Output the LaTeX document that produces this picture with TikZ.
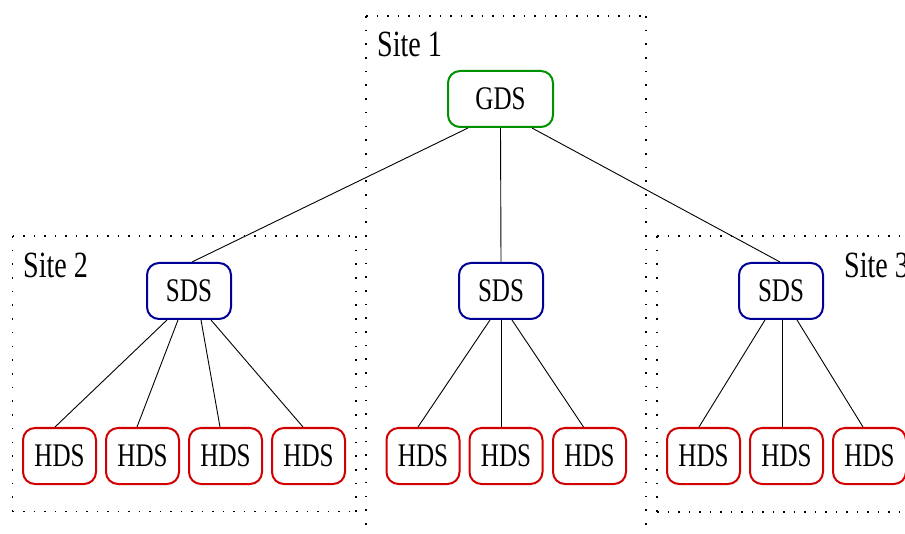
\documentclass[tikz,border=0pt]{standalone}
\usepackage{fontspec}
\setmainfont{Liberation Serif}[FakeStretch=0.76]
\usetikzlibrary{calc}
\definecolor{gdsgreen}{RGB}{0,145,0}
\definecolor{sdsblue}{RGB}{0,0,150}
\definecolor{hdsred}{RGB}{210,0,0}
\tikzset{
  box/.style={draw, line width=2pt, rounded corners=12pt, minimum height=56pt, inner sep=0pt, font=\fontsize{33}{36}\selectfont},
  gdsbox/.style={box, draw=gdsgreen, minimum width=105pt},
  sdsbox/.style={box, draw=sdsblue, minimum width=84pt},
  hdsbox/.style={box, draw=hdsred, minimum width=73pt},
  hdots/.style={line width=1.6pt, dash pattern=on 1.6pt off 8.9pt},
  vdots/.style={line width=1.6pt, dash pattern=on 1.6pt off 12.1pt},
  sitelabel/.style={anchor=base west, inner sep=0pt, font=\fontsize{37}{40}\selectfont},
  link/.style={line width=0.9pt}
}
\begin{document}
\begin{tikzpicture}[x=1pt,y=-1pt]
\useasboundingbox (0,0) rectangle (905,534);
% site 1 (open at the bottom)
\draw[hdots] (366,16) -- (646,16);
\draw[vdots] (366,16) -- (366,540);
\draw[vdots] (646,16) -- (646,540);
% site 2
\draw[hdots] (12.5,236) -- (356,236);
\draw[hdots] (12.5,511.5) -- (356,511.5);
\draw[vdots] (12.5,236) -- (12.5,511.5);
\draw[vdots] (356,236) -- (356,511.5);
% site 3
\draw[hdots] (657,236) -- (920,236);
\draw[hdots] (657,512) -- (920,512);
\draw[vdots] (657,236) -- (657,512);
\node[sitelabel] (s1) at (377,57) {Site 1};
\node[sitelabel] (s2) at (23,278) {Site 2};
\node[sitelabel] (s3) at (844,278) {Site 3};
% nodes
\node[gdsbox] (gds) at (500.5,99) {GDS};
\node[sdsbox] (sa) at (189,291) {SDS};
\node[sdsbox] (sb) at (501,291) {SDS};
\node[sdsbox] (sc) at (781,291) {SDS};
\node[hdsbox] (h1) at (59.5,456) {HDS};
\node[hdsbox] (h2) at (142.5,456) {HDS};
\node[hdsbox] (h3) at (225.5,456) {HDS};
\node[hdsbox] (h4) at (308.5,456) {HDS};
\node[hdsbox] (h5) at (423,456) {HDS};
\node[hdsbox] (h6) at (506,456) {HDS};
\node[hdsbox] (h7) at (589.5,456) {HDS};
\node[hdsbox] (h8) at (703.5,456) {HDS};
\node[hdsbox] (h9) at (786.5,456) {HDS};
\node[hdsbox] (h10) at (869.5,456) {HDS};
% connectors
\draw[link] ($(gds.south)+(-32.5,0)$) -- ($(sa.north)+(3,0)$);
\draw[link] (gds.south) -- (sb.north);
\draw[link] ($(gds.south)+(31.5,0)$) -- ($(sc.north)+(-1,0)$);
\draw[link] ($(sa.south)+(-22,0)$) -- ($(h1.north)+(-4.5,0)$);
\draw[link] ($(sa.south)+(-11,0)$) -- ($(h2.north)+(-5.5,0)$);
\draw[link] ($(sa.south)+(12,0)$) -- ($(h3.north)+(-5.5,0)$);
\draw[link] ($(sa.south)+(22,0)$) -- ($(h4.north)+(-5.5,0)$);
\draw[link] ($(sb.south)+(-11,0)$) -- ($(h5.north)+(-5,0)$);
\draw[link] (sb.south) -- ($(h6.north)+(-5,0)$);
\draw[link] ($(sb.south)+(11,0)$) -- ($(h7.north)+(-6,0)$);
\draw[link] ($(sc.south)+(-16,0)$) -- ($(h8.north)+(-4.5,0)$);
\draw[link] ($(sc.south)+(1,0)$) -- ($(h9.north)+(-4.5,0)$);
\draw[link] ($(sc.south)+(16,0)$) -- ($(h10.north)+(-6.5,0)$);
\end{tikzpicture}
\end{document}
